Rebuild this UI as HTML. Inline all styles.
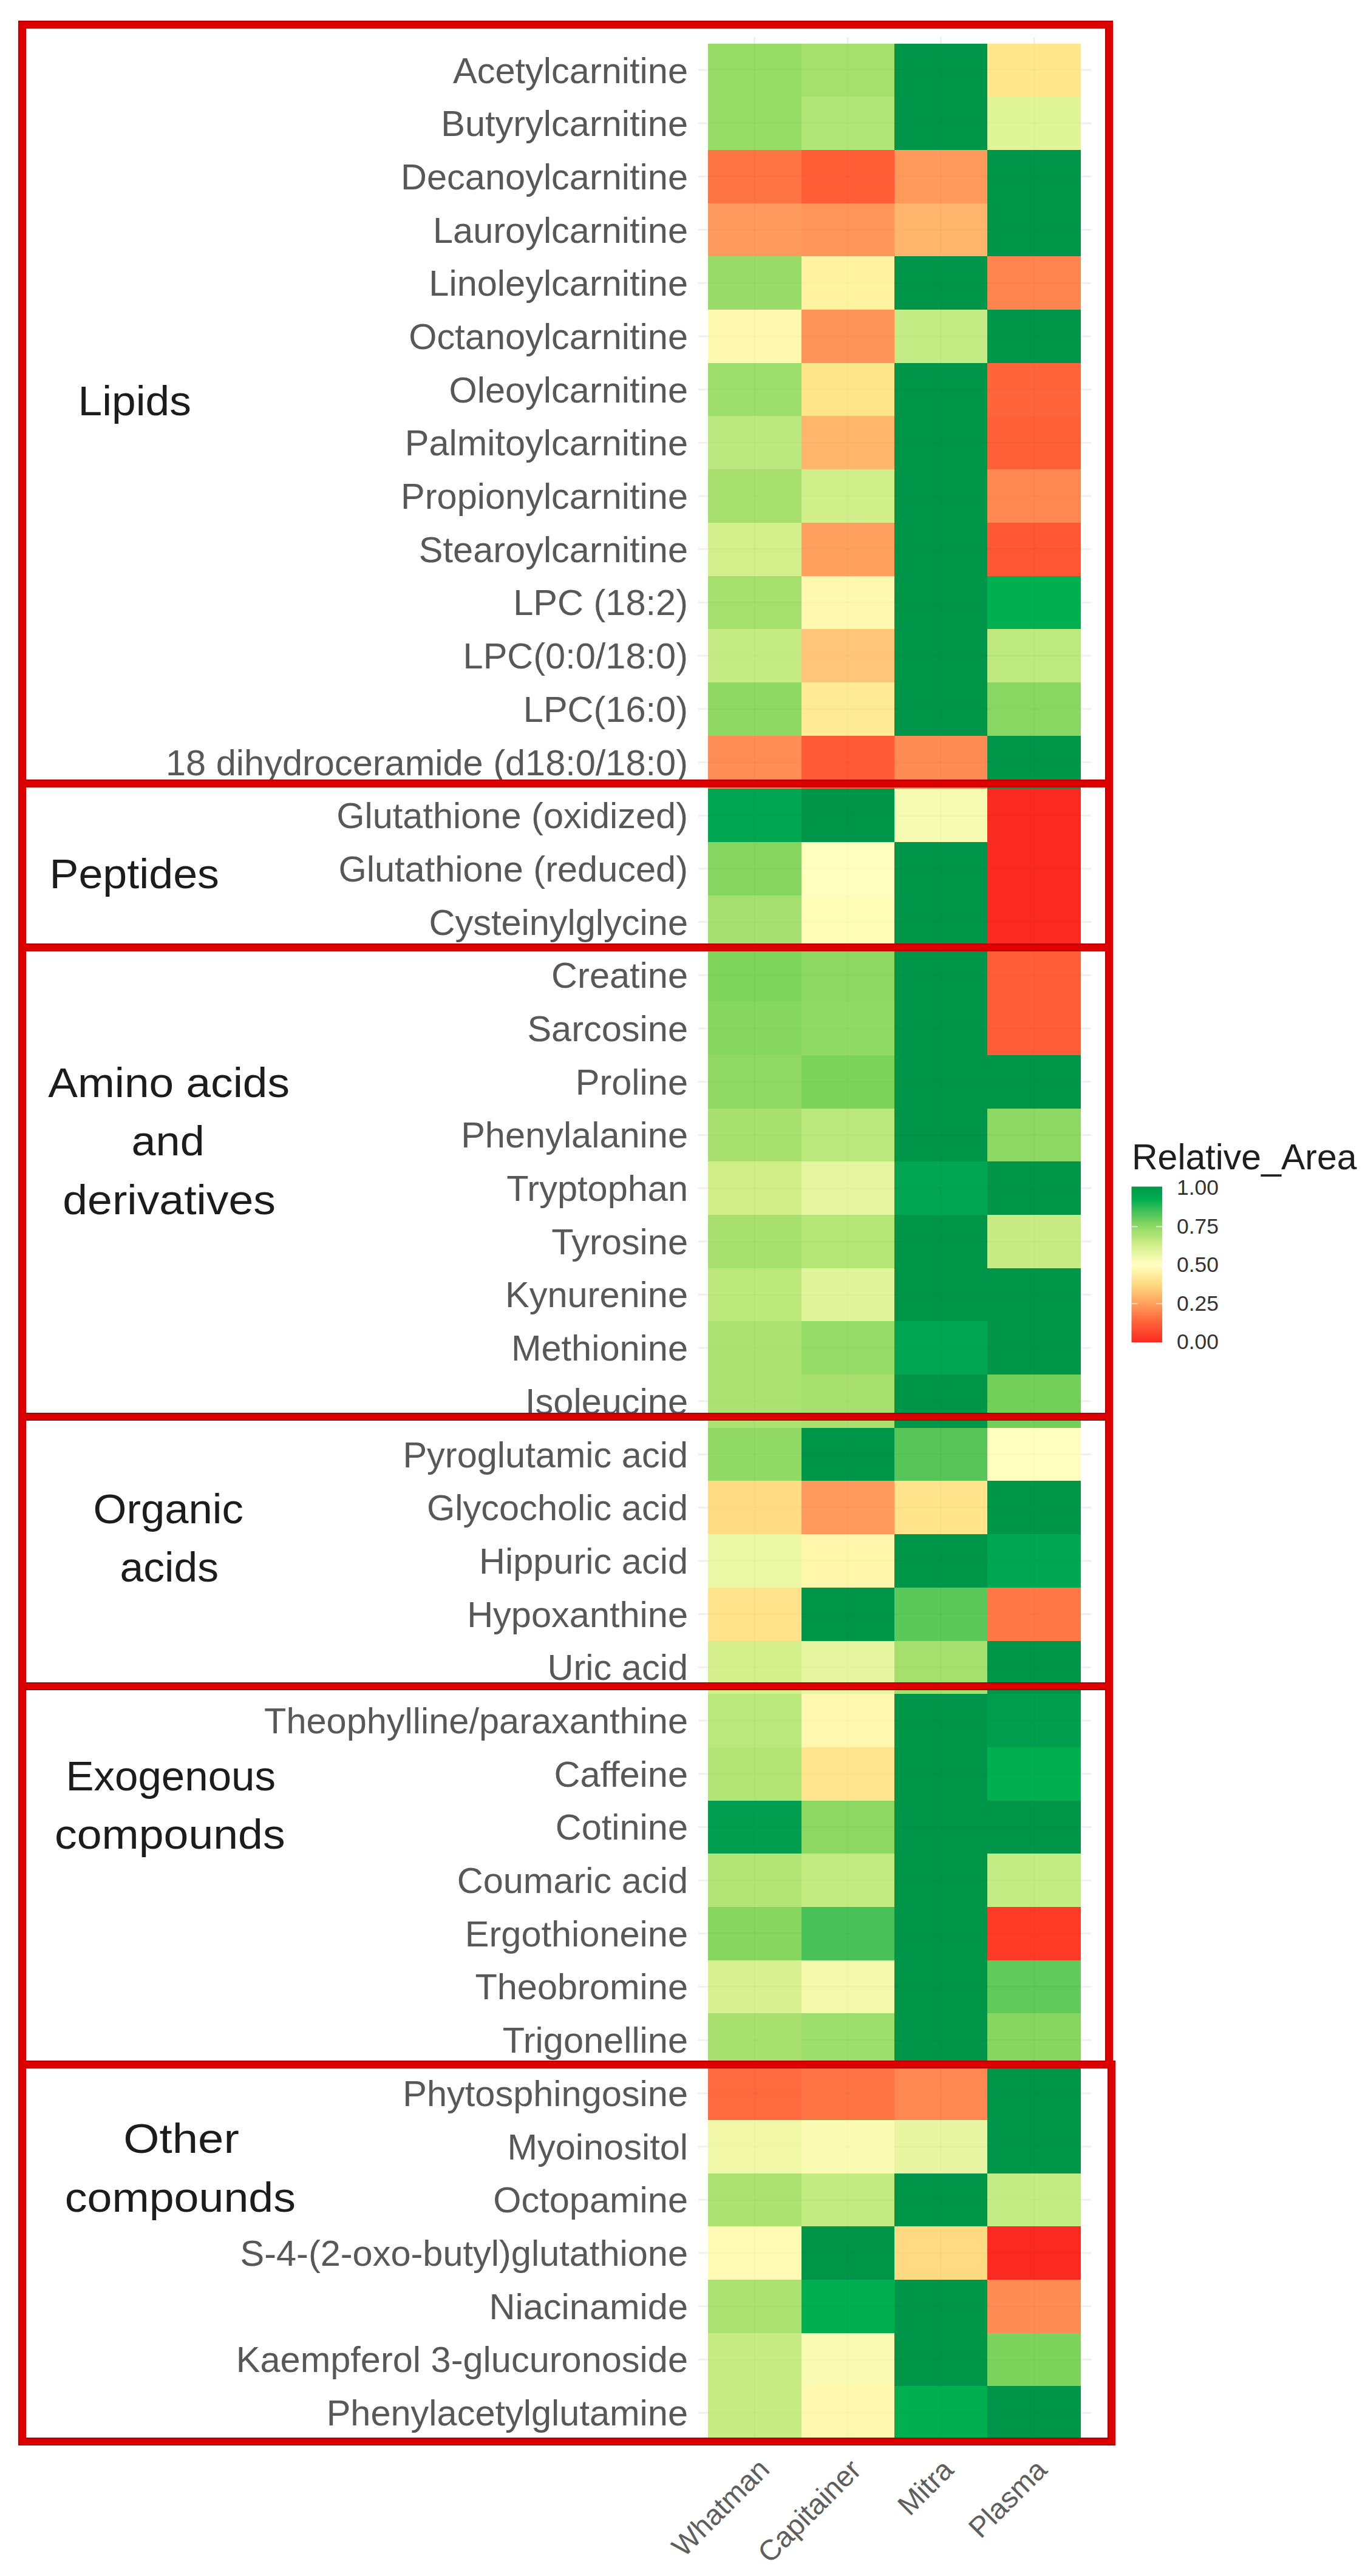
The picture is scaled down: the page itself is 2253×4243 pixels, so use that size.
<!DOCTYPE html>
<html lang="en"><head><meta charset="utf-8"><title>Relative area heatmap</title>
<style>
html,body{margin:0;padding:0;background:#fff;}
body{width:2253px;height:4243px;overflow:hidden;}
svg{display:block;}
text{font-family:"Liberation Sans",Arial,Helvetica,sans-serif;}
.rl{font-size:59.5px;fill:#585858;text-anchor:end;}
.cl{font-size:47.5px;fill:#5e5e5e;text-anchor:end;}
.gl{font-size:69px;fill:#1c1c1c;}
.lt{font-size:59px;fill:#1e1e1e;}
.lk{font-size:35.5px;fill:#333;}
</style></head><body>
<svg width="2253" height="4243" viewBox="0 0 2253 4243">
<defs><linearGradient id="lg" x1="0" y1="0" x2="0" y2="1">
<stop offset="0" stop-color="#00964A"/>
<stop offset="0.08" stop-color="#00AE50"/>
<stop offset="0.25" stop-color="#8CD862"/>
<stop offset="0.375" stop-color="#D2EE8A"/>
<stop offset="0.5" stop-color="#FFFFBF"/>
<stop offset="0.625" stop-color="#FFDC84"/>
<stop offset="0.75" stop-color="#FFA05E"/>
<stop offset="0.875" stop-color="#FF6038"/>
<stop offset="1" stop-color="#FA2A20"/>
</linearGradient></defs>
<rect width="2253" height="4243" fill="#fff"/>
<g stroke="#f0f0f0" stroke-width="3">
<line x1="1150" y1="115.3" x2="1797" y2="115.3"/>
<line x1="1150" y1="203.1" x2="1797" y2="203.1"/>
<line x1="1150" y1="290.8" x2="1797" y2="290.8"/>
<line x1="1150" y1="378.4" x2="1797" y2="378.4"/>
<line x1="1150" y1="466.2" x2="1797" y2="466.2"/>
<line x1="1150" y1="553.9" x2="1797" y2="553.9"/>
<line x1="1150" y1="641.6" x2="1797" y2="641.6"/>
<line x1="1150" y1="729.2" x2="1797" y2="729.2"/>
<line x1="1150" y1="817.0" x2="1797" y2="817.0"/>
<line x1="1150" y1="904.6" x2="1797" y2="904.6"/>
<line x1="1150" y1="992.4" x2="1797" y2="992.4"/>
<line x1="1150" y1="1080.1" x2="1797" y2="1080.1"/>
<line x1="1150" y1="1167.8" x2="1797" y2="1167.8"/>
<line x1="1150" y1="1255.5" x2="1797" y2="1255.5"/>
<line x1="1150" y1="1343.2" x2="1797" y2="1343.2"/>
<line x1="1150" y1="1430.9" x2="1797" y2="1430.9"/>
<line x1="1150" y1="1518.5" x2="1797" y2="1518.5"/>
<line x1="1150" y1="1606.2" x2="1797" y2="1606.2"/>
<line x1="1150" y1="1694.0" x2="1797" y2="1694.0"/>
<line x1="1150" y1="1781.7" x2="1797" y2="1781.7"/>
<line x1="1150" y1="1869.4" x2="1797" y2="1869.4"/>
<line x1="1150" y1="1957.0" x2="1797" y2="1957.0"/>
<line x1="1150" y1="2044.8" x2="1797" y2="2044.8"/>
<line x1="1150" y1="2132.5" x2="1797" y2="2132.5"/>
<line x1="1150" y1="2220.2" x2="1797" y2="2220.2"/>
<line x1="1150" y1="2307.8" x2="1797" y2="2307.8"/>
<line x1="1150" y1="2395.6" x2="1797" y2="2395.6"/>
<line x1="1150" y1="2483.2" x2="1797" y2="2483.2"/>
<line x1="1150" y1="2571.0" x2="1797" y2="2571.0"/>
<line x1="1150" y1="2658.7" x2="1797" y2="2658.7"/>
<line x1="1150" y1="2746.3" x2="1797" y2="2746.3"/>
<line x1="1150" y1="2834.1" x2="1797" y2="2834.1"/>
<line x1="1150" y1="2921.8" x2="1797" y2="2921.8"/>
<line x1="1150" y1="3009.5" x2="1797" y2="3009.5"/>
<line x1="1150" y1="3097.2" x2="1797" y2="3097.2"/>
<line x1="1150" y1="3184.8" x2="1797" y2="3184.8"/>
<line x1="1150" y1="3272.6" x2="1797" y2="3272.6"/>
<line x1="1150" y1="3360.2" x2="1797" y2="3360.2"/>
<line x1="1150" y1="3448.0" x2="1797" y2="3448.0"/>
<line x1="1150" y1="3535.7" x2="1797" y2="3535.7"/>
<line x1="1150" y1="3623.3" x2="1797" y2="3623.3"/>
<line x1="1150" y1="3711.1" x2="1797" y2="3711.1"/>
<line x1="1150" y1="3798.8" x2="1797" y2="3798.8"/>
<line x1="1150" y1="3886.5" x2="1797" y2="3886.5"/>
<line x1="1150" y1="3974.2" x2="1797" y2="3974.2"/>
<line x1="1242.7" y1="61" x2="1242.7" y2="4020"/>
<line x1="1396.2" y1="61" x2="1396.2" y2="4020"/>
<line x1="1549.6" y1="61" x2="1549.6" y2="4020"/>
<line x1="1703.1" y1="61" x2="1703.1" y2="4020"/>
</g>
<g shape-rendering="crispEdges">
<rect x="1166.0" y="71.5" width="153.9" height="88.2" fill="#98DC68"/>
<rect x="1319.5" y="71.5" width="153.9" height="88.2" fill="#A5E06F"/>
<rect x="1472.9" y="71.5" width="153.9" height="88.2" fill="#00964A"/>
<rect x="1626.3" y="71.5" width="153.4" height="88.2" fill="#FFE88C"/>
<rect x="1166.0" y="159.2" width="153.9" height="88.2" fill="#98DC68"/>
<rect x="1319.5" y="159.2" width="153.9" height="88.2" fill="#B2E577"/>
<rect x="1472.9" y="159.2" width="153.9" height="88.2" fill="#00964A"/>
<rect x="1626.3" y="159.2" width="153.4" height="88.2" fill="#E0F598"/>
<rect x="1166.0" y="246.9" width="153.9" height="88.2" fill="#FF7443"/>
<rect x="1319.5" y="246.9" width="153.9" height="88.2" fill="#FF5E36"/>
<rect x="1472.9" y="246.9" width="153.9" height="88.2" fill="#FF9A5C"/>
<rect x="1626.3" y="246.9" width="153.4" height="88.2" fill="#00964A"/>
<rect x="1166.0" y="334.6" width="153.9" height="88.2" fill="#FF9A5E"/>
<rect x="1319.5" y="334.6" width="153.9" height="88.2" fill="#FF9659"/>
<rect x="1472.9" y="334.6" width="153.9" height="88.2" fill="#FFB56C"/>
<rect x="1626.3" y="334.6" width="153.4" height="88.2" fill="#00964A"/>
<rect x="1166.0" y="422.3" width="153.9" height="88.2" fill="#9ADC6A"/>
<rect x="1319.5" y="422.3" width="153.9" height="88.2" fill="#FFF2A0"/>
<rect x="1472.9" y="422.3" width="153.9" height="88.2" fill="#00964A"/>
<rect x="1626.3" y="422.3" width="153.4" height="88.2" fill="#FF8550"/>
<rect x="1166.0" y="510.0" width="153.9" height="88.2" fill="#FFF8AE"/>
<rect x="1319.5" y="510.0" width="153.9" height="88.2" fill="#FF9458"/>
<rect x="1472.9" y="510.0" width="153.9" height="88.2" fill="#C4EC84"/>
<rect x="1626.3" y="510.0" width="153.4" height="88.2" fill="#00964A"/>
<rect x="1166.0" y="597.7" width="153.9" height="88.2" fill="#9EDE6C"/>
<rect x="1319.5" y="597.7" width="153.9" height="88.2" fill="#FFE58A"/>
<rect x="1472.9" y="597.7" width="153.9" height="88.2" fill="#00964A"/>
<rect x="1626.3" y="597.7" width="153.4" height="88.2" fill="#FF643A"/>
<rect x="1166.0" y="685.4" width="153.9" height="88.2" fill="#BCE97F"/>
<rect x="1319.5" y="685.4" width="153.9" height="88.2" fill="#FFB66C"/>
<rect x="1472.9" y="685.4" width="153.9" height="88.2" fill="#00964A"/>
<rect x="1626.3" y="685.4" width="153.4" height="88.2" fill="#FF6038"/>
<rect x="1166.0" y="773.1" width="153.9" height="88.2" fill="#A8E070"/>
<rect x="1319.5" y="773.1" width="153.9" height="88.2" fill="#D0EE8A"/>
<rect x="1472.9" y="773.1" width="153.9" height="88.2" fill="#00964A"/>
<rect x="1626.3" y="773.1" width="153.4" height="88.2" fill="#FF8852"/>
<rect x="1166.0" y="860.8" width="153.9" height="88.2" fill="#D2EF8B"/>
<rect x="1319.5" y="860.8" width="153.9" height="88.2" fill="#FFA05E"/>
<rect x="1472.9" y="860.8" width="153.9" height="88.2" fill="#00964A"/>
<rect x="1626.3" y="860.8" width="153.4" height="88.2" fill="#FF5633"/>
<rect x="1166.0" y="948.5" width="153.9" height="88.2" fill="#A5DF6E"/>
<rect x="1319.5" y="948.5" width="153.9" height="88.2" fill="#FFF8B0"/>
<rect x="1472.9" y="948.5" width="153.9" height="88.2" fill="#00964A"/>
<rect x="1626.3" y="948.5" width="153.4" height="88.2" fill="#00B050"/>
<rect x="1166.0" y="1036.2" width="153.9" height="88.2" fill="#C5EC84"/>
<rect x="1319.5" y="1036.2" width="153.9" height="88.2" fill="#FFC67A"/>
<rect x="1472.9" y="1036.2" width="153.9" height="88.2" fill="#00964A"/>
<rect x="1626.3" y="1036.2" width="153.4" height="88.2" fill="#BDE97F"/>
<rect x="1166.0" y="1123.9" width="153.9" height="88.2" fill="#8FD864"/>
<rect x="1319.5" y="1123.9" width="153.9" height="88.2" fill="#FFEB96"/>
<rect x="1472.9" y="1123.9" width="153.9" height="88.2" fill="#00964A"/>
<rect x="1626.3" y="1123.9" width="153.4" height="88.2" fill="#8AD662"/>
<rect x="1166.0" y="1211.6" width="153.9" height="88.2" fill="#FF8E56"/>
<rect x="1319.5" y="1211.6" width="153.9" height="88.2" fill="#FF5A36"/>
<rect x="1472.9" y="1211.6" width="153.9" height="88.2" fill="#FF8C55"/>
<rect x="1626.3" y="1211.6" width="153.4" height="88.2" fill="#00964A"/>
<rect x="1166.0" y="1299.3" width="153.9" height="88.2" fill="#00A651"/>
<rect x="1319.5" y="1299.3" width="153.9" height="88.2" fill="#00964A"/>
<rect x="1472.9" y="1299.3" width="153.9" height="88.2" fill="#F5FBB0"/>
<rect x="1626.3" y="1299.3" width="153.4" height="88.2" fill="#FA2A20"/>
<rect x="1166.0" y="1387.0" width="153.9" height="88.2" fill="#86D560"/>
<rect x="1319.5" y="1387.0" width="153.9" height="88.2" fill="#FFFFBF"/>
<rect x="1472.9" y="1387.0" width="153.9" height="88.2" fill="#00964A"/>
<rect x="1626.3" y="1387.0" width="153.4" height="88.2" fill="#FA2A20"/>
<rect x="1166.0" y="1474.7" width="153.9" height="88.2" fill="#A5E070"/>
<rect x="1319.5" y="1474.7" width="153.9" height="88.2" fill="#FFFDB8"/>
<rect x="1472.9" y="1474.7" width="153.9" height="88.2" fill="#00964A"/>
<rect x="1626.3" y="1474.7" width="153.4" height="88.2" fill="#FA2A20"/>
<rect x="1166.0" y="1562.4" width="153.9" height="88.2" fill="#7FD45C"/>
<rect x="1319.5" y="1562.4" width="153.9" height="88.2" fill="#8CD862"/>
<rect x="1472.9" y="1562.4" width="153.9" height="88.2" fill="#00964A"/>
<rect x="1626.3" y="1562.4" width="153.4" height="88.2" fill="#FF5E38"/>
<rect x="1166.0" y="1650.1" width="153.9" height="88.2" fill="#86D660"/>
<rect x="1319.5" y="1650.1" width="153.9" height="88.2" fill="#92DA66"/>
<rect x="1472.9" y="1650.1" width="153.9" height="88.2" fill="#00964A"/>
<rect x="1626.3" y="1650.1" width="153.4" height="88.2" fill="#FF5E38"/>
<rect x="1166.0" y="1737.8" width="153.9" height="88.2" fill="#90D964"/>
<rect x="1319.5" y="1737.8" width="153.9" height="88.2" fill="#7CD45C"/>
<rect x="1472.9" y="1737.8" width="153.9" height="88.2" fill="#00964A"/>
<rect x="1626.3" y="1737.8" width="153.4" height="88.2" fill="#00964A"/>
<rect x="1166.0" y="1825.5" width="153.9" height="88.2" fill="#A8E070"/>
<rect x="1319.5" y="1825.5" width="153.9" height="88.2" fill="#BBE87C"/>
<rect x="1472.9" y="1825.5" width="153.9" height="88.2" fill="#00964A"/>
<rect x="1626.3" y="1825.5" width="153.4" height="88.2" fill="#8CD862"/>
<rect x="1166.0" y="1913.2" width="153.9" height="88.2" fill="#D2EE88"/>
<rect x="1319.5" y="1913.2" width="153.9" height="88.2" fill="#E8F5A0"/>
<rect x="1472.9" y="1913.2" width="153.9" height="88.2" fill="#00A651"/>
<rect x="1626.3" y="1913.2" width="153.4" height="88.2" fill="#00964A"/>
<rect x="1166.0" y="2000.9" width="153.9" height="88.2" fill="#A8E070"/>
<rect x="1319.5" y="2000.9" width="153.9" height="88.2" fill="#B5E678"/>
<rect x="1472.9" y="2000.9" width="153.9" height="88.2" fill="#00964A"/>
<rect x="1626.3" y="2000.9" width="153.4" height="88.2" fill="#C8EC84"/>
<rect x="1166.0" y="2088.6" width="153.9" height="88.2" fill="#BCE87C"/>
<rect x="1319.5" y="2088.6" width="153.9" height="88.2" fill="#E2F49A"/>
<rect x="1472.9" y="2088.6" width="153.9" height="88.2" fill="#00964A"/>
<rect x="1626.3" y="2088.6" width="153.4" height="88.2" fill="#00964A"/>
<rect x="1166.0" y="2176.3" width="153.9" height="88.2" fill="#ACE272"/>
<rect x="1319.5" y="2176.3" width="153.9" height="88.2" fill="#96DC68"/>
<rect x="1472.9" y="2176.3" width="153.9" height="88.2" fill="#00A651"/>
<rect x="1626.3" y="2176.3" width="153.4" height="88.2" fill="#00964A"/>
<rect x="1166.0" y="2264.0" width="153.9" height="88.2" fill="#ACE272"/>
<rect x="1319.5" y="2264.0" width="153.9" height="88.2" fill="#A8E070"/>
<rect x="1472.9" y="2264.0" width="153.9" height="88.2" fill="#00964A"/>
<rect x="1626.3" y="2264.0" width="153.4" height="88.2" fill="#72D058"/>
<rect x="1166.0" y="2351.7" width="153.9" height="88.2" fill="#92DA66"/>
<rect x="1319.5" y="2351.7" width="153.9" height="88.2" fill="#00964A"/>
<rect x="1472.9" y="2351.7" width="153.9" height="88.2" fill="#58C558"/>
<rect x="1626.3" y="2351.7" width="153.4" height="88.2" fill="#FFFFBF"/>
<rect x="1166.0" y="2439.4" width="153.9" height="88.2" fill="#FFDC84"/>
<rect x="1319.5" y="2439.4" width="153.9" height="88.2" fill="#FF9A5C"/>
<rect x="1472.9" y="2439.4" width="153.9" height="88.2" fill="#FFE48C"/>
<rect x="1626.3" y="2439.4" width="153.4" height="88.2" fill="#00964A"/>
<rect x="1166.0" y="2527.1" width="153.9" height="88.2" fill="#EAF7A4"/>
<rect x="1319.5" y="2527.1" width="153.9" height="88.2" fill="#FFF6AC"/>
<rect x="1472.9" y="2527.1" width="153.9" height="88.2" fill="#00964A"/>
<rect x="1626.3" y="2527.1" width="153.4" height="88.2" fill="#00A651"/>
<rect x="1166.0" y="2614.8" width="153.9" height="88.2" fill="#FFE38A"/>
<rect x="1319.5" y="2614.8" width="153.9" height="88.2" fill="#00964A"/>
<rect x="1472.9" y="2614.8" width="153.9" height="88.2" fill="#5CC85A"/>
<rect x="1626.3" y="2614.8" width="153.4" height="88.2" fill="#FF7846"/>
<rect x="1166.0" y="2702.5" width="153.9" height="88.2" fill="#D5EF8C"/>
<rect x="1319.5" y="2702.5" width="153.9" height="88.2" fill="#E8F5A0"/>
<rect x="1472.9" y="2702.5" width="153.9" height="88.2" fill="#A5DF6E"/>
<rect x="1626.3" y="2702.5" width="153.4" height="88.2" fill="#00964A"/>
<rect x="1166.0" y="2790.2" width="153.9" height="88.2" fill="#BAE87C"/>
<rect x="1319.5" y="2790.2" width="153.9" height="88.2" fill="#FFF8B0"/>
<rect x="1472.9" y="2790.2" width="153.9" height="88.2" fill="#00964A"/>
<rect x="1626.3" y="2790.2" width="153.4" height="88.2" fill="#009E4E"/>
<rect x="1166.0" y="2877.9" width="153.9" height="88.2" fill="#B2E576"/>
<rect x="1319.5" y="2877.9" width="153.9" height="88.2" fill="#FFE68E"/>
<rect x="1472.9" y="2877.9" width="153.9" height="88.2" fill="#00964A"/>
<rect x="1626.3" y="2877.9" width="153.4" height="88.2" fill="#00B050"/>
<rect x="1166.0" y="2965.6" width="153.9" height="88.2" fill="#009E4E"/>
<rect x="1319.5" y="2965.6" width="153.9" height="88.2" fill="#8CD862"/>
<rect x="1472.9" y="2965.6" width="153.9" height="88.2" fill="#00964A"/>
<rect x="1626.3" y="2965.6" width="153.4" height="88.2" fill="#00964A"/>
<rect x="1166.0" y="3053.3" width="153.9" height="88.2" fill="#B2E576"/>
<rect x="1319.5" y="3053.3" width="153.9" height="88.2" fill="#C2EB82"/>
<rect x="1472.9" y="3053.3" width="153.9" height="88.2" fill="#00964A"/>
<rect x="1626.3" y="3053.3" width="153.4" height="88.2" fill="#C5EC84"/>
<rect x="1166.0" y="3141.0" width="153.9" height="88.2" fill="#86D660"/>
<rect x="1319.5" y="3141.0" width="153.9" height="88.2" fill="#48C258"/>
<rect x="1472.9" y="3141.0" width="153.9" height="88.2" fill="#00964A"/>
<rect x="1626.3" y="3141.0" width="153.4" height="88.2" fill="#FF3A26"/>
<rect x="1166.0" y="3228.7" width="153.9" height="88.2" fill="#D8F090"/>
<rect x="1319.5" y="3228.7" width="153.9" height="88.2" fill="#F2F9AA"/>
<rect x="1472.9" y="3228.7" width="153.9" height="88.2" fill="#00964A"/>
<rect x="1626.3" y="3228.7" width="153.4" height="88.2" fill="#60CA5A"/>
<rect x="1166.0" y="3316.4" width="153.9" height="88.2" fill="#A8E070"/>
<rect x="1319.5" y="3316.4" width="153.9" height="88.2" fill="#9EDE6C"/>
<rect x="1472.9" y="3316.4" width="153.9" height="88.2" fill="#00964A"/>
<rect x="1626.3" y="3316.4" width="153.4" height="88.2" fill="#86D660"/>
<rect x="1166.0" y="3404.1" width="153.9" height="88.2" fill="#FF6A3E"/>
<rect x="1319.5" y="3404.1" width="153.9" height="88.2" fill="#FF7444"/>
<rect x="1472.9" y="3404.1" width="153.9" height="88.2" fill="#FF8852"/>
<rect x="1626.3" y="3404.1" width="153.4" height="88.2" fill="#00964A"/>
<rect x="1166.0" y="3491.8" width="153.9" height="88.2" fill="#F0F8A8"/>
<rect x="1319.5" y="3491.8" width="153.9" height="88.2" fill="#FBFCB4"/>
<rect x="1472.9" y="3491.8" width="153.9" height="88.2" fill="#E8F5A2"/>
<rect x="1626.3" y="3491.8" width="153.4" height="88.2" fill="#00964A"/>
<rect x="1166.0" y="3579.5" width="153.9" height="88.2" fill="#ACE272"/>
<rect x="1319.5" y="3579.5" width="153.9" height="88.2" fill="#C2EB82"/>
<rect x="1472.9" y="3579.5" width="153.9" height="88.2" fill="#00964A"/>
<rect x="1626.3" y="3579.5" width="153.4" height="88.2" fill="#C5EC84"/>
<rect x="1166.0" y="3667.2" width="153.9" height="88.2" fill="#FFFAB4"/>
<rect x="1319.5" y="3667.2" width="153.9" height="88.2" fill="#00964A"/>
<rect x="1472.9" y="3667.2" width="153.9" height="88.2" fill="#FFDA82"/>
<rect x="1626.3" y="3667.2" width="153.4" height="88.2" fill="#FA2A20"/>
<rect x="1166.0" y="3754.9" width="153.9" height="88.2" fill="#ACE272"/>
<rect x="1319.5" y="3754.9" width="153.9" height="88.2" fill="#00B050"/>
<rect x="1472.9" y="3754.9" width="153.9" height="88.2" fill="#00964A"/>
<rect x="1626.3" y="3754.9" width="153.4" height="88.2" fill="#FF8C55"/>
<rect x="1166.0" y="3842.6" width="153.9" height="88.2" fill="#C8EC84"/>
<rect x="1319.5" y="3842.6" width="153.9" height="88.2" fill="#FAFBB2"/>
<rect x="1472.9" y="3842.6" width="153.9" height="88.2" fill="#00964A"/>
<rect x="1626.3" y="3842.6" width="153.4" height="88.2" fill="#7CD45C"/>
<rect x="1166.0" y="3930.3" width="153.9" height="87.7" fill="#C8EC84"/>
<rect x="1319.5" y="3930.3" width="153.9" height="87.7" fill="#FFF8AE"/>
<rect x="1472.9" y="3930.3" width="153.9" height="87.7" fill="#00B050"/>
<rect x="1626.3" y="3930.3" width="153.4" height="87.7" fill="#00964A"/>
</g>
<g stroke="#000" stroke-opacity="0.014" stroke-width="3">
<line x1="1166.0" y1="115.3" x2="1779.8" y2="115.3"/>
<line x1="1166.0" y1="203.1" x2="1779.8" y2="203.1"/>
<line x1="1166.0" y1="290.8" x2="1779.8" y2="290.8"/>
<line x1="1166.0" y1="378.4" x2="1779.8" y2="378.4"/>
<line x1="1166.0" y1="466.2" x2="1779.8" y2="466.2"/>
<line x1="1166.0" y1="553.9" x2="1779.8" y2="553.9"/>
<line x1="1166.0" y1="641.6" x2="1779.8" y2="641.6"/>
<line x1="1166.0" y1="729.2" x2="1779.8" y2="729.2"/>
<line x1="1166.0" y1="817.0" x2="1779.8" y2="817.0"/>
<line x1="1166.0" y1="904.6" x2="1779.8" y2="904.6"/>
<line x1="1166.0" y1="992.4" x2="1779.8" y2="992.4"/>
<line x1="1166.0" y1="1080.1" x2="1779.8" y2="1080.1"/>
<line x1="1166.0" y1="1167.8" x2="1779.8" y2="1167.8"/>
<line x1="1166.0" y1="1255.5" x2="1779.8" y2="1255.5"/>
<line x1="1166.0" y1="1343.2" x2="1779.8" y2="1343.2"/>
<line x1="1166.0" y1="1430.9" x2="1779.8" y2="1430.9"/>
<line x1="1166.0" y1="1518.5" x2="1779.8" y2="1518.5"/>
<line x1="1166.0" y1="1606.2" x2="1779.8" y2="1606.2"/>
<line x1="1166.0" y1="1694.0" x2="1779.8" y2="1694.0"/>
<line x1="1166.0" y1="1781.7" x2="1779.8" y2="1781.7"/>
<line x1="1166.0" y1="1869.4" x2="1779.8" y2="1869.4"/>
<line x1="1166.0" y1="1957.0" x2="1779.8" y2="1957.0"/>
<line x1="1166.0" y1="2044.8" x2="1779.8" y2="2044.8"/>
<line x1="1166.0" y1="2132.5" x2="1779.8" y2="2132.5"/>
<line x1="1166.0" y1="2220.2" x2="1779.8" y2="2220.2"/>
<line x1="1166.0" y1="2307.8" x2="1779.8" y2="2307.8"/>
<line x1="1166.0" y1="2395.6" x2="1779.8" y2="2395.6"/>
<line x1="1166.0" y1="2483.2" x2="1779.8" y2="2483.2"/>
<line x1="1166.0" y1="2571.0" x2="1779.8" y2="2571.0"/>
<line x1="1166.0" y1="2658.7" x2="1779.8" y2="2658.7"/>
<line x1="1166.0" y1="2746.3" x2="1779.8" y2="2746.3"/>
<line x1="1166.0" y1="2834.1" x2="1779.8" y2="2834.1"/>
<line x1="1166.0" y1="2921.8" x2="1779.8" y2="2921.8"/>
<line x1="1166.0" y1="3009.5" x2="1779.8" y2="3009.5"/>
<line x1="1166.0" y1="3097.2" x2="1779.8" y2="3097.2"/>
<line x1="1166.0" y1="3184.8" x2="1779.8" y2="3184.8"/>
<line x1="1166.0" y1="3272.6" x2="1779.8" y2="3272.6"/>
<line x1="1166.0" y1="3360.2" x2="1779.8" y2="3360.2"/>
<line x1="1166.0" y1="3448.0" x2="1779.8" y2="3448.0"/>
<line x1="1166.0" y1="3535.7" x2="1779.8" y2="3535.7"/>
<line x1="1166.0" y1="3623.3" x2="1779.8" y2="3623.3"/>
<line x1="1166.0" y1="3711.1" x2="1779.8" y2="3711.1"/>
<line x1="1166.0" y1="3798.8" x2="1779.8" y2="3798.8"/>
<line x1="1166.0" y1="3886.5" x2="1779.8" y2="3886.5"/>
<line x1="1166.0" y1="3974.2" x2="1779.8" y2="3974.2"/>
<line x1="1242.7" y1="71.5" x2="1242.7" y2="4018.0"/>
<line x1="1396.2" y1="71.5" x2="1396.2" y2="4018.0"/>
<line x1="1549.6" y1="71.5" x2="1549.6" y2="4018.0"/>
<line x1="1703.1" y1="71.5" x2="1703.1" y2="4018.0"/>
</g>
<g class="rl">
<text x="1133" y="136.5">Acetylcarnitine</text>
<text x="1133" y="224.2">Butyrylcarnitine</text>
<text x="1133" y="311.9">Decanoylcarnitine</text>
<text x="1133" y="399.6">Lauroylcarnitine</text>
<text x="1133" y="487.3">Linoleylcarnitine</text>
<text x="1133" y="575.0">Octanoylcarnitine</text>
<text x="1133" y="662.7">Oleoylcarnitine</text>
<text x="1133" y="750.4">Palmitoylcarnitine</text>
<text x="1133" y="838.1">Propionylcarnitine</text>
<text x="1133" y="925.8">Stearoylcarnitine</text>
<text x="1133" y="1013.4">LPC (18:2)</text>
<text x="1133" y="1101.1">LPC(0:0/18:0)</text>
<text x="1133" y="1188.8">LPC(16:0)</text>
<text x="1133" y="1276.5">18 dihydroceramide (d18:0/18:0)</text>
<text x="1133" y="1364.2">Glutathione (oxidized)</text>
<text x="1133" y="1451.9">Glutathione (reduced)</text>
<text x="1133" y="1539.6">Cysteinylglycine</text>
<text x="1133" y="1627.3">Creatine</text>
<text x="1133" y="1715.0">Sarcosine</text>
<text x="1133" y="1802.7">Proline</text>
<text x="1133" y="1890.3">Phenylalanine</text>
<text x="1133" y="1978.0">Tryptophan</text>
<text x="1133" y="2065.7">Tyrosine</text>
<text x="1133" y="2153.4">Kynurenine</text>
<text x="1133" y="2241.1">Methionine</text>
<text x="1133" y="2328.8">Isoleucine</text>
<text x="1133" y="2416.5">Pyroglutamic acid</text>
<text x="1133" y="2504.2">Glycocholic acid</text>
<text x="1133" y="2591.9">Hippuric acid</text>
<text x="1133" y="2679.6">Hypoxanthine</text>
<text x="1133" y="2767.2">Uric acid</text>
<text x="1133" y="2854.9">Theophylline/paraxanthine</text>
<text x="1133" y="2942.6">Caffeine</text>
<text x="1133" y="3030.3">Cotinine</text>
<text x="1133" y="3118.0">Coumaric acid</text>
<text x="1133" y="3205.7">Ergothioneine</text>
<text x="1133" y="3293.4">Theobromine</text>
<text x="1133" y="3381.1">Trigonelline</text>
<text x="1133" y="3468.8">Phytosphingosine</text>
<text x="1133" y="3556.5">Myoinositol</text>
<text x="1133" y="3644.1">Octopamine</text>
<text x="1133" y="3731.8">S-4-(2-oxo-butyl)glutathione</text>
<text x="1133" y="3819.5">Niacinamide</text>
<text x="1133" y="3907.2">Kaempferol 3-glucuronoside</text>
<text x="1133" y="3994.9">Phenylacetylglutamine</text>
</g>
<g class="cl">
<text transform="translate(1270 4070) rotate(-45)" x="0" y="0">Whatman</text>
<text transform="translate(1421 4071) rotate(-45)" x="0" y="0">Capitainer</text>
<text transform="translate(1573 4071) rotate(-45)" x="0" y="0">Mitra</text>
<text transform="translate(1727 4071) rotate(-45)" x="0" y="0">Plasma</text>
</g>
<text class="lt" x="1864" y="1926">Relative_Area</text>
<rect x="1863.5" y="1954.5" width="50.5" height="256.5" fill="url(#lg)"/>
<g stroke="#fff" stroke-opacity="0.75" stroke-width="1.6">
<line x1="1863.5" y1="2020.5" x2="1873.5" y2="2020.5"/><line x1="1904" y1="2020.5" x2="1914" y2="2020.5"/>
<line x1="1863.5" y1="2083.9" x2="1873.5" y2="2083.9"/><line x1="1904" y1="2083.9" x2="1914" y2="2083.9"/>
<line x1="1863.5" y1="2147.3" x2="1873.5" y2="2147.3"/><line x1="1904" y1="2147.3" x2="1914" y2="2147.3"/>
</g>
<g class="lk">
<text x="1938" y="1968.2">1.00</text>
<text x="1938" y="2031.7">0.75</text>
<text x="1938" y="2095.1">0.50</text>
<text x="1938" y="2158.5">0.25</text>
<text x="1938" y="2222.0">0.00</text>
</g>
<g fill="none" stroke="#b40000" stroke-width="13">
<rect x="36.5" y="40.5" width="1790.0" height="1250.0"/>
<rect x="36.5" y="1290.5" width="1790.0" height="270.0"/>
<rect x="36.5" y="1560.5" width="1790.0" height="773.0"/>
<rect x="36.5" y="2333.5" width="1790.0" height="444.0"/>
<rect x="36.5" y="2777.5" width="1790.0" height="623.0"/>
<rect x="36.5" y="3400.5" width="1794.0" height="621.0"/>
</g>
<g fill="none" stroke="#dc0000" stroke-width="9">
<rect x="36.5" y="40.5" width="1790.0" height="1250.0"/>
<rect x="36.5" y="1290.5" width="1790.0" height="270.0"/>
<rect x="36.5" y="1560.5" width="1790.0" height="773.0"/>
<rect x="36.5" y="2333.5" width="1790.0" height="444.0"/>
<rect x="36.5" y="2777.5" width="1790.0" height="623.0"/>
<rect x="36.5" y="3400.5" width="1794.0" height="621.0"/>
</g>
<g class="gl">
<text x="128.5" y="683.7" textLength="186.5" lengthAdjust="spacingAndGlyphs">Lipids</text>
<text x="81.5" y="1463.0" textLength="279.5" lengthAdjust="spacingAndGlyphs">Peptides</text>
<text x="79.2" y="1806.6" textLength="397.8" lengthAdjust="spacingAndGlyphs">Amino acids</text>
<text x="216.5" y="1903.0" textLength="120.2" lengthAdjust="spacingAndGlyphs">and</text>
<text x="103.3" y="2000.4" textLength="350.7" lengthAdjust="spacingAndGlyphs">derivatives</text>
<text x="153.5" y="2508.8" textLength="247.3" lengthAdjust="spacingAndGlyphs">Organic</text>
<text x="197.5" y="2605.0" textLength="162.5" lengthAdjust="spacingAndGlyphs">acids</text>
<text x="108.5" y="2948.8" textLength="345.5" lengthAdjust="spacingAndGlyphs">Exogenous</text>
<text x="90.1" y="3045.0" textLength="379.5" lengthAdjust="spacingAndGlyphs">compounds</text>
<text x="203.3" y="3546.0" textLength="190.5" lengthAdjust="spacingAndGlyphs">Other</text>
<text x="106.8" y="3642.6" textLength="380.2" lengthAdjust="spacingAndGlyphs">compounds</text>
</g>
</svg></body></html>
